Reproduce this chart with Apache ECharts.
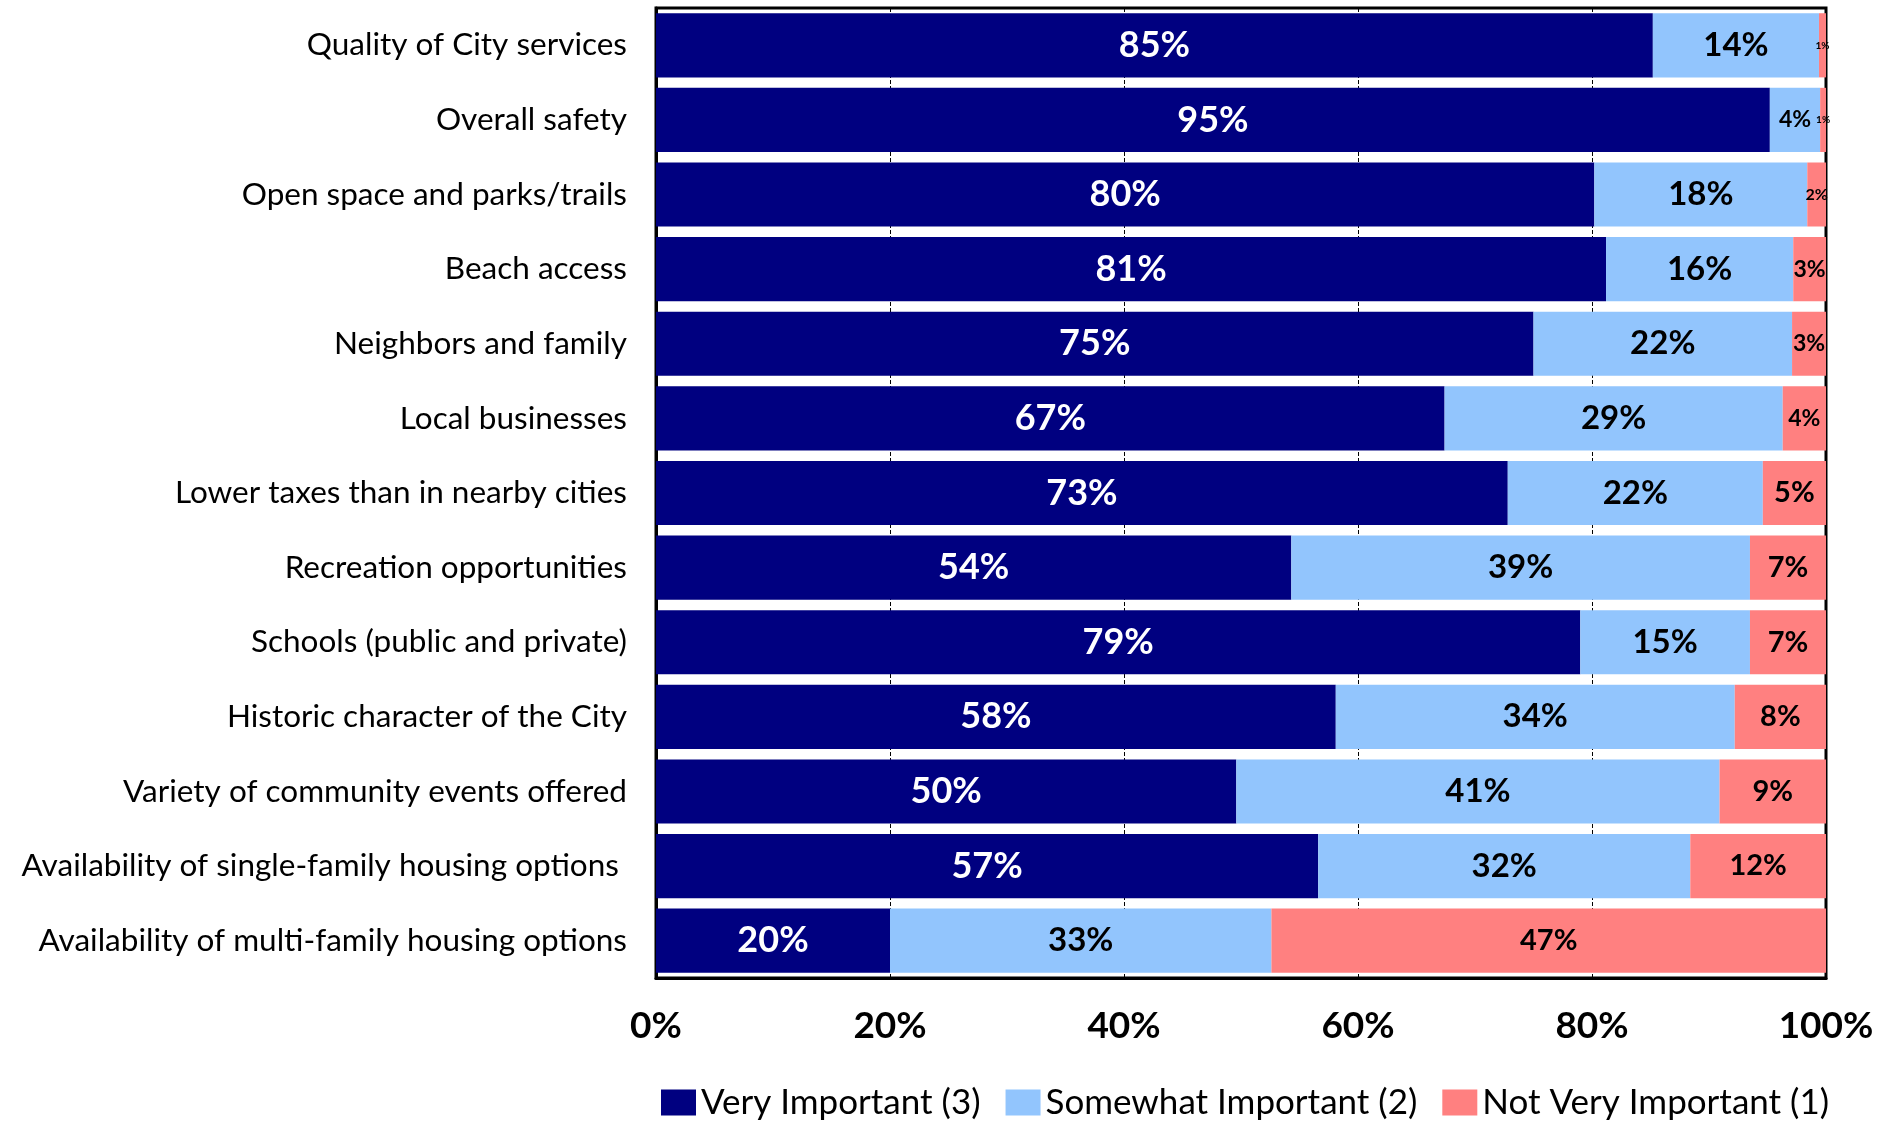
<!DOCTYPE html>
<html>
<head>
<meta charset="utf-8">
<script src="https://cdn.jsdelivr.net/npm/echarts@6/dist/echarts.min.js"></script>
<style>
html,body{margin:0;padding:0;background:#fff;}
#main{width:1897px;height:1123px;}
</style>
</head>
<body>
<div id="main"></div>
<script>
var categories=['Quality of City services','Overall safety','Open space and parks/trails','Beach access','Neighbors and family','Local businesses','Lower taxes than in nearby cities','Recreation opportunities','Schools (public and private)','Historic character of the City','Variety of community events offered','Availability of single-family housing options ','Availability of multi-family housing options'];
var veryImportant=[85.2,95.2,80.2,81.2,75.0,67.4,72.8,54.3,79.0,58.1,49.6,56.6,20.0];
var somewhatImportant=[14.2,4.3,18.2,16.0,22.1,28.9,21.8,39.2,14.5,34.1,41.3,31.8,32.6];
var notVeryImportant=[0.6,0.5,1.6,2.8,2.9,3.7,5.4,6.5,6.5,7.8,9.1,11.6,47.4];
var seriesNames=['Very Important (3)','Somewhat Important (2)','Not Very Important (1)'];

var font='Lato';

// small segments get smaller labels, like the original
function fitSize(v,base){
    var r=Math.round(v);
    if(r<=1) return 10;
    if(r==2) return 16;
    if(r<=4) return Math.min(base,23);
    return base;
}

function makeSeries(name,values,color,textColor,base){
    return {
        name:name,
        type:'bar',
        stack:'total',
        barCategoryGap:'14%',
        itemStyle:{color:color},
        data:values.map(function(v){
            return {
                value:v,
                label:{fontSize:fitSize(v,base)}
            };
        }),
        label:{
            show:true,
            position:'inside',
            color:textColor,
            fontWeight:'bold',
            fontFamily:font,
            padding:[5,0,0,0],
            formatter:function(p){return Math.round(p.value)+'%';}
        }
    };
}

var myChart=echarts.init(document.getElementById('main'));
var option={
    animation:false,
    grid:{
        left:656,
        right:71,
        top:8,
        bottom:145,
        show:true,
        borderColor:'#000',
        borderWidth:3
    },
    legend:{
        data:seriesNames,
        left:656,
        top:1080,
        itemWidth:35,
        itemHeight:26,
        itemGap:25,
        icon:'rect',
        textStyle:{
            fontSize:35,
            fontFamily:font,
            color:'#000'
        }
    },
    xAxis:{
        type:'value',
        min:0,
        max:100,
        interval:20,
        axisLine:{show:true,lineStyle:{color:'#000',width:3}},
        axisTick:{show:false},
        splitLine:{show:true,lineStyle:{color:'#000',width:1,type:'dashed'}},
        axisLabel:{
            formatter:'{value}%',
            fontSize:37,
            fontWeight:'bold',
            fontFamily:font,
            color:'#000',
            margin:30
        }
    },
    yAxis:{
        type:'category',
        inverse:true,
        data:categories,
        axisLine:{show:true,lineStyle:{color:'#000',width:3}},
        axisTick:{show:false},
        axisLabel:{
            fontSize:31.5,
            fontFamily:font,
            color:'#000',
            margin:29,
            padding:[8,0,0,0]
        }
    },
    series:[
        makeSeries(seriesNames[0],veryImportant,'#000080','#fff',36),
        makeSeries(seriesNames[1],somewhatImportant,'#92C5FD','#000',33),
        makeSeries(seriesNames[2],notVeryImportant,'#FF8080','#000',29)
    ]
};
myChart.setOption(option);
</script>
</body>
</html>
